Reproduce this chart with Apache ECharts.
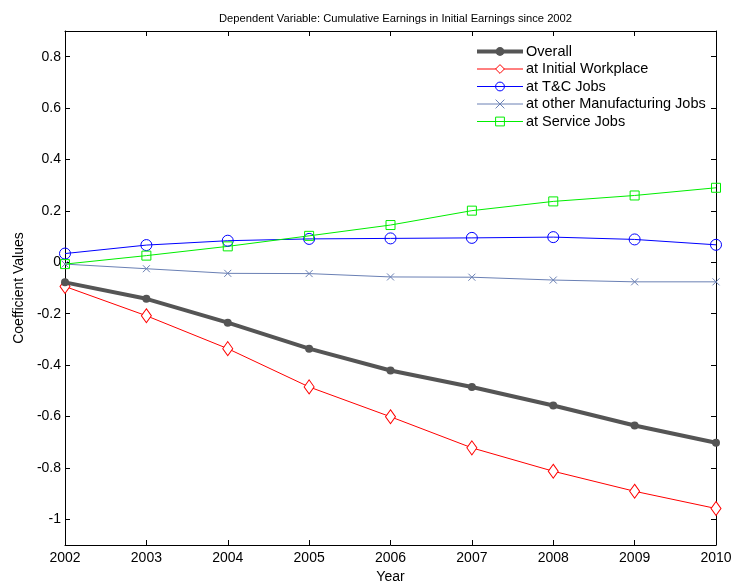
<!DOCTYPE html>
<html>
<head>
<meta charset="utf-8">
<script src="https://cdn.jsdelivr.net/npm/echarts@6/dist/echarts.min.js"></script>
<style>
  html, body { margin: 0; padding: 0; background: #fff; }
  #chart { width: 734px; height: 584px; }
</style>
</head>
<body>
<div id="chart"></div>
<script>
// Years on the horizontal axis
const years = [2002, 2003, 2004, 2005, 2006, 2007, 2008, 2009, 2010];

// Coefficient estimates per year
const overall        = [-0.078, -0.142, -0.235, -0.336, -0.421, -0.485, -0.557, -0.635, -0.702];
const initialWork    = [-0.094, -0.208, -0.336, -0.485, -0.601, -0.722, -0.813, -0.891, -0.958];
const tcJobs         = [0.034, 0.067, 0.084, 0.091, 0.093, 0.095, 0.098, 0.089, 0.068];
const otherManufJobs = [-0.007, -0.025, -0.043, -0.044, -0.057, -0.058, -0.069, -0.076, -0.076];
const serviceJobs    = [-0.007, 0.026, 0.062, 0.103, 0.145, 0.201, 0.237, 0.260, 0.290];

const seriesNames = ['Overall', 'at Initial Workplace', 'at T&C Jobs', 'at other Manufacturing Jobs', 'at Service Jobs'];

// Y tick values shown on the axis
const yTicks = [-1, -0.8, -0.6, -0.4, -0.2, 0, 0.2, 0.4, 0.6, 0.8];

const font = 'Liberation Sans, Arial, Helvetica, sans-serif';
const pairs = arr => years.map((y, i) => [y, arr[i]]);

const chart = echarts.init(document.getElementById('chart'), null, { renderer: 'canvas' });

const axisLine = { show: true, onZero: false, lineStyle: { color: '#000', width: 1 } };
const tickIn = { show: true, inside: true, length: 5, lineStyle: { color: '#000' } };
const thinItem = { borderWidth: 1 };

chart.setOption({
  animation: false,
  backgroundColor: '#fff',
  title: {
    text: 'Dependent Variable: Cumulative Earnings in Initial Earnings since 2002',
    left: 390.5, top: 8, textAlign: 'center',
    textStyle: { fontFamily: font, fontSize: 11.2, fontWeight: 'normal', color: '#000' }
  },
  grid: { left: 65, right: 18, top: 31, bottom: 39, containLabel: false, outerBoundsMode: 'none' },
  legend: {
    orient: 'vertical',
    left: 470, top: 39,
    itemGap: 2.5,
    itemWidth: 46, itemHeight: 11,
    data: [
      { name: seriesNames[0], lineStyle: { width: 4 } },
      { name: seriesNames[1], lineStyle: { width: 1 }, itemStyle: thinItem },
      { name: seriesNames[2], lineStyle: { width: 1 }, itemStyle: thinItem },
      { name: seriesNames[3], lineStyle: { width: 1 }, itemStyle: thinItem },
      { name: seriesNames[4], lineStyle: { width: 1 }, itemStyle: thinItem }
    ],
    textStyle: { fontFamily: font, fontSize: 14.5, color: '#000', padding: [0, 0, 0, -2] }
  },
  xAxis: [{
    type: 'value', min: 2002, max: 2010, interval: 1,
    name: 'Year', nameLocation: 'middle', nameGap: 22,
    nameTextStyle: { fontFamily: font, fontSize: 14, color: '#000' },
    axisLine, axisTick: tickIn, splitLine: { show: false },
    axisLabel: { fontFamily: font, fontSize: 14, color: '#000', margin: 6, formatter: v => String(v) }
  }, {
    type: 'value', min: 2002, max: 2010, interval: 1, position: 'top',
    axisLine, axisTick: tickIn, splitLine: { show: false }, axisLabel: { show: false }
  }],
  yAxis: [{
    type: 'value', min: -1.1, max: 0.9,
    name: 'Coefficient Values', nameLocation: 'middle', nameGap: 38, nameRotate: 90,
    nameTextStyle: { fontFamily: font, fontSize: 14, color: '#000' },
    axisLine,
    axisTick: Object.assign({ customValues: yTicks }, tickIn),
    splitLine: { show: false },
    axisLabel: {
      customValues: yTicks,
      fontFamily: font, fontSize: 14, color: '#000', margin: 4,
      formatter: v => (Math.abs(v) < 1e-9 ? '0' : String(Math.round(v * 10) / 10))
    }
  }, {
    type: 'value', min: -1.1, max: 0.9, position: 'right',
    axisLine,
    axisTick: Object.assign({ customValues: yTicks }, tickIn),
    splitLine: { show: false },
    axisLabel: { show: false, customValues: yTicks }
  }],
  series: [
    {
      name: seriesNames[0], type: 'line', data: pairs(overall), z: 5,
      lineStyle: { color: '#555555', width: 4 },
      itemStyle: { color: '#555555' },
      symbol: 'circle', symbolSize: 8, showSymbol: true
    },
    {
      name: seriesNames[1], type: 'line', data: pairs(initialWork),
      lineStyle: { color: '#ff0000', width: 1 },
      itemStyle: { color: '#fff', borderColor: '#ff0000', borderWidth: 1 },
      symbol: 'diamond', symbolSize: [10, 14]
    },
    {
      name: seriesNames[2], type: 'line', data: pairs(tcJobs),
      lineStyle: { color: '#0000ff', width: 1 },
      itemStyle: { color: 'rgba(0,0,0,0)', borderColor: '#0000ff', borderWidth: 1 },
      symbol: 'circle', symbolSize: 11
    },
    {
      name: seriesNames[3], type: 'line', data: pairs(otherManufJobs),
      lineStyle: { color: '#6a80b4', width: 1 },
      itemStyle: { color: 'rgba(0,0,0,0)', borderColor: '#6a80b4', borderWidth: 1 },
      symbol: 'path://M0,0L10,10M10,0L0,10', symbolSize: 7
    },
    {
      name: seriesNames[4], type: 'line', data: pairs(serviceJobs),
      lineStyle: { color: '#00ee00', width: 1 },
      itemStyle: { color: 'rgba(0,0,0,0)', borderColor: '#00ee00', borderWidth: 1 },
      symbol: 'rect', symbolSize: 9
    }
  ]
});
</script>
</body>
</html>
